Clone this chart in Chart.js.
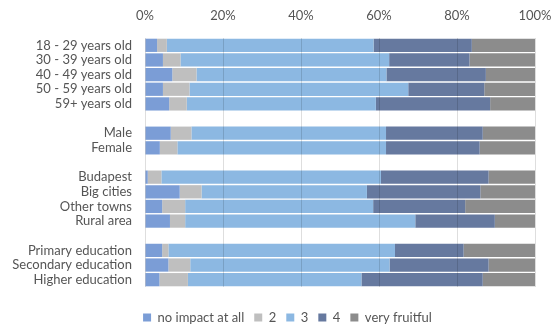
<!DOCTYPE html>
<html>
<head>
<meta charset="utf-8">
<script src="https://cdn.jsdelivr.net/npm/chart.js@4/dist/chart.umd.min.js"></script>
<style>
  html, body { margin: 0; padding: 0; background: #ffffff; }
  #wrap { width: 551px; height: 325px; position: relative; }
</style>
</head>
<body>
<div id="wrap"><canvas id="chart"></canvas></div>
<script>
// categories (empty strings are the spacer rows between groups)
const categories = [
  '18 - 29 years old', '30 - 39 years old', '40 - 49 years old', '50 - 59 years old', '59+ years old',
  '',
  'Male', 'Female',
  '',
  'Budapest', 'Big cities', 'Other towns', 'Rural area',
  '',
  'Primary education', 'Secondary education', 'Higher education'
]

const seriesNames = ['no impact at all', '2', '3', '4', 'very fruitful']

// shares in percent
const noImpact   = [3.1, 4.6, 7.0, 4.6, 6.2, null, 6.6, 3.8, null, 0.7, 8.9, 4.4, 6.4, null, 4.4, 6.0, 3.7]
const two        = [2.5, 4.5, 6.2, 6.8, 4.5, null, 5.3, 4.5, null, 3.5, 5.6, 5.9, 3.9, null, 1.6, 5.6, 7.3]
const three      = [53.0, 53.5, 48.7, 56.1, 48.5, null, 49.9, 53.5, null, 56.3, 42.4, 48.2, 59.0, null, 58.1, 51.1, 44.5]
const four       = [25.2, 20.6, 25.5, 19.5, 29.3, null, 24.8, 24.0, null, 27.6, 29.1, 23.6, 20.4, null, 17.6, 25.4, 31.1]
const veryFruit  = [16.2, 16.8, 12.6, 13.0, 11.5, null, 13.4, 14.2, null, 11.9, 14.0, 17.9, 10.3, null, 18.3, 11.9, 13.4]

const xTicks = [0, 20, 40, 60, 80, 100]

const colors = ['#7b9dd6', '#bfbfbf', '#8cb8e2', '#66799f', '#8c8c8c']
const FONT = 'Lato, "Open Sans", "Liberation Sans", sans-serif'
const GREY_TEXT = '#555555'

const values = [noImpact, two, three, four, veryFruit]

// nudge the legend so it sits where the original one is
const legendShift = {
  id: 'legendShift',
  afterLayout(chart) {
    const lg = chart.legend
    if (!lg) return
    lg.left += 20
    lg.right += 20
    lg.top += 14
    lg.bottom += 14
  }
}

new Chart(document.getElementById('chart'), {
  type: 'bar',
  data: {
    labels: categories,
    datasets: values.map((data, i) => ({
      label: seriesNames[i],
      data,
      backgroundColor: colors[i],
      borderWidth: 0,
      barPercentage: 0.905,
      categoryPercentage: 1.0,
    })),
  },
  options: {
    indexAxis: 'y',
    responsive: true,
    maintainAspectRatio: false,
    animation: false,
    layout: { padding: { left: 0, right: 16, top: 0, bottom: 5 } },
    scales: {
      x: {
        position: 'top',
        stacked: true,
        min: 0,
        max: 100,
        afterBuildTicks: (scale) => { scale.ticks = xTicks.map((v) => ({ value: v })) },
        afterFit: (scale) => {
          scale.height = 38
          scale.paddingLeft = 0
          scale.paddingRight = 0
        },
        ticks: {
          padding: 14,
          color: GREY_TEXT,
          font: { size: 13, family: FONT },
          callback: (v) => `${v}%`,
        },
        grid: { color: 'rgba(0,0,0,0.13)', lineWidth: 1, drawTicks: false, z: 1 },
        border: { display: false },
      },
      y: {
        stacked: true,
        afterFit: (scale) => { scale.width = 145 },
        ticks: {
          padding: 13,
          color: GREY_TEXT,
          font: { size: 13, family: FONT },
          autoSkip: false,
        },
        grid: { display: false, drawTicks: false },
        border: { display: false },
      },
    },
    plugins: {
      legend: {
        position: 'bottom',
        labels: {
          boxWidth: 8,
          boxHeight: 8,
          padding: 10,
          color: GREY_TEXT,
          font: { size: 13, family: FONT },
        },
      },
      tooltip: { enabled: false },
    },
  },
  plugins: [legendShift],
})
</script>
</body>
</html>
